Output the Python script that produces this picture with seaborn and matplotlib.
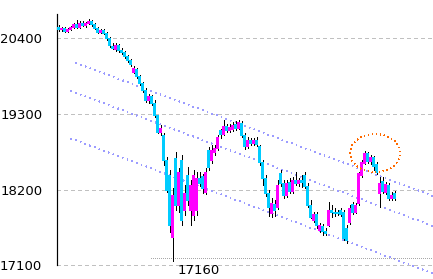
import matplotlib
matplotlib.use("Agg")
import matplotlib.pyplot as plt
import seaborn as sns
import pandas as pd
from matplotlib.patches import Ellipse
from matplotlib import font_manager

# ---- data (daily candles, prices) ----
opens = [20564, 20535, 20550, 20506, 20535, 20564, 20608, 20564, 20622, 20593,
         20622, 20651, 20608, 20550, 20492, 20521, 20477, 20404, 20288, 20245,
         20303, 20230, 20201, 20143, 20085, 19910, 19954, 19852, 19750, 19649,
         19504, 19562, 19460, 19286, 19039, 18995, 18632, 18414, 17513, 18661,
         17978, 18632, 17905, 18414, 17905, 17833, 17905, 18370, 18399, 18167,
         18777, 18632, 18748, 18806, 19068, 19010, 19126, 19068, 19082, 19155,
         19097, 19169, 18995, 18835, 18922, 18879, 18922, 18835, 18603, 18370,
         18152, 17862, 17992, 17949, 18443, 18298, 18123, 18312, 18181, 18341,
         18298, 18341, 18414, 18254, 17978, 17760, 17847, 17615, 17673, 17600,
         17687, 17905, 17876, 17876, 17905, 17876, 17644, 17731, 17992, 17876,
         18007, 18414, 18588, 18733, 18617, 18675, 18574, 18152, 18327, 18167,
         18268, 18080, 18152]
highs = [20593, 20564, 20564, 20550, 20579, 20622, 20666, 20651, 20651, 20637,
         20680, 20666, 20622, 20564, 20535, 20535, 20492, 20419, 20332, 20332,
         20317, 20259, 20215, 20157, 20099, 19998, 19968, 19867, 19765, 19678,
         19591, 19576, 19504, 19286, 19140, 19024, 18675, 18486, 18225, 18748,
         18515, 18704, 18268, 18530, 18341, 18486, 18457, 18457, 18428, 18515,
         18821, 18850, 18850, 18995, 19082, 19213, 19155, 19155, 19184, 19198,
         19213, 19198, 19024, 18966, 18951, 18951, 18966, 18850, 18632, 18414,
         18196, 18080, 18051, 18341, 18486, 18341, 18341, 18370, 18385, 18457,
         18370, 18414, 18457, 18298, 18051, 17876, 17876, 17716, 17702, 17644,
         18021, 17978, 17934, 17905, 17934, 17905, 17687, 17978, 18021, 18007,
         18457, 18632, 18763, 18748, 18704, 18690, 18603, 18385, 18385, 18312,
         18298, 18167, 18181]
lows = [20506, 20506, 20492, 20492, 20521, 20550, 20550, 20550, 20579, 20564,
        20608, 20579, 20535, 20477, 20477, 20462, 20375, 20274, 20245, 20215,
        20201, 20172, 20114, 20056, 19998, 19896, 19823, 19721, 19620, 19474,
        19460, 19431, 19256, 19024, 18995, 18559, 18167, 17586, 17160, 17905,
        17876, 17687, 17833, 17978, 17687, 17760, 17833, 18254, 18152, 18138,
        18486, 18588, 18704, 18777, 18951, 18995, 19039, 19039, 19053, 19068,
        19082, 18966, 18792, 18806, 18850, 18850, 18835, 18559, 18268, 18109,
        17818, 17804, 17818, 17920, 18254, 18080, 18094, 18152, 18152, 18268,
        18254, 18239, 18225, 17949, 17789, 17731, 17644, 17586, 17542, 17542,
        17673, 17804, 17818, 17833, 17818, 17469, 17426, 17702, 17847, 17862,
        17978, 18385, 18574, 18588, 18574, 18486, 18428, 17949, 18152, 18138,
        18051, 18051, 18051]
closes = [20535, 20550, 20506, 20535, 20564, 20608, 20564, 20622, 20593, 20622,
          20651, 20608, 20550, 20492, 20521, 20477, 20404, 20303, 20259, 20303,
          20230, 20201, 20143, 20085, 20027, 19968, 19852, 19750, 19649, 19504,
          19562, 19460, 19286, 19039, 19097, 18632, 18196, 17687, 18123, 17978,
          18457, 17760, 18152, 18051, 18268, 18414, 18370, 18298, 18225, 18457,
          18530, 18777, 18806, 18966, 19010, 19126, 19068, 19111, 19140, 19097,
          19184, 18995, 18835, 18922, 18879, 18922, 18864, 18603, 18370, 18152,
          17949, 18007, 17905, 18268, 18298, 18123, 18298, 18181, 18341, 18298,
          18341, 18312, 18254, 17978, 17804, 17847, 17687, 17687, 17600, 17571,
          17905, 17876, 17862, 17862, 17847, 17498, 17469, 17934, 17876, 17978,
          18443, 18603, 18733, 18617, 18675, 18545, 18457, 18298, 18181, 18283,
          18080, 18123, 18080]

ytick_values = [17100, 18200, 19300, 20400]
ytick_labels = ["17100", "18200", "19300", "20400"]
low_value = 17160
low_label = "17160"
support_level = 17210

# trend channel lines (start/end in candle index and price)
trend_x = [[6, 125], [4.33, 125], [4.33, 125]]
trend_y = [[20041, 18109], [19634, 17673], [18944, 16983]]

# highlighted zone (centre index, centre price, width in candles, height in price)
zone_center = (105.7, 18733)
zone_size = (16.7, 552)

# ---- style ----
sns.set_style("white")
names = {f.name for f in font_manager.fontManager.ttflist}
fam = "Liberation Sans Narrow" if "Liberation Sans Narrow" in names else "DejaVu Sans"
plt.rcParams["font.family"] = [fam, "DejaVu Sans"]

W, H = 433, 279
fig = plt.figure(figsize=(W / 100, H / 100), dpi=100)
left_px = 57.5
ax = fig.add_axes([left_px / W, 0, (W - left_px) / W, 1])

px = 0.72  # one pixel in points
ax.set_ylim(16902, 20956)
ax.set_xlim(-0.167, 125.0)

df = pd.DataFrame({"open": opens, "high": highs, "low": lows, "close": closes})
df["idx"] = range(len(df))
# ensure every body is at least ~2 px tall
min_body = 25
df["b_lo"] = df[["open", "close"]].min(axis=1)
df["b_hi"] = df[["open", "close"]].max(axis=1)
short = (df["b_hi"] - df["b_lo"]) < min_body
mid = (df["b_hi"] + df["b_lo"]) / 2
df.loc[short, "b_lo"] = mid[short] - min_body / 2
df.loc[short, "b_hi"] = mid[short] + min_body / 2

# grid lines
for v in ytick_values:
    ax.axhline(v, color="#c0c0c0", lw=px, linestyle=(0, (4, 3)), zorder=1, antialiased=False)

# support dotted line
ax.plot([31, 125], [support_level, support_level], color="#a8a8a8", lw=px,
        linestyle=(0, (1, 2)), zorder=1, antialiased=False)

# trend lines via seaborn
for xs, ys in zip(trend_x, trend_y):
    sns.lineplot(x=xs, y=ys, ax=ax, color="#9c9cff", lw=0.6 * px,
                 linestyle=(0, (1.5, 7)), zorder=2, clip_on=False, antialiased=False)

# candles
ax.vlines(df["idx"] + 0.34, df["low"], df["high"], colors="black", lw=px, zorder=3,
          antialiased=False)
body_colors = ["#ff00ff" if c > o else "#00ccff" for o, c in zip(df["open"], df["close"])]
ax.vlines(df["idx"], df["b_lo"], df["b_hi"], colors=body_colors, lw=2.6 * px, zorder=4,
          antialiased=False)

# highlight ellipse
ax.add_patch(Ellipse(zone_center, zone_size[0], zone_size[1], fill=False,
                     edgecolor="#ff6a00", lw=px, linestyle=(0, (1, 4)),
                     zorder=5, antialiased=False))

# low annotation
low_idx = lows.index(low_value)
ax.text(low_idx + 2, 17019, low_label, ha="left", va="center", fontsize=9.5,
        color="black")

# axes styling
for s in ["top", "right", "bottom"]:
    ax.spines[s].set_visible(False)
ax.spines["left"].set_color("black")
ax.spines["left"].set_linewidth(1.2 * px)
ax.spines["left"].set_bounds(17100, 20753)
ax.set_xticks([])
ax.set_yticks(ytick_values)
ax.set_yticklabels(ytick_labels)
ax.tick_params(axis="y", direction="in", length=3 * px, width=px, pad=11,
               labelsize=9.5, colors="black", left=True)
ax.set_xlabel("")
ax.set_ylabel("")
ax.patch.set_alpha(0)

fig.savefig("out.png", dpi=100, facecolor="white")
